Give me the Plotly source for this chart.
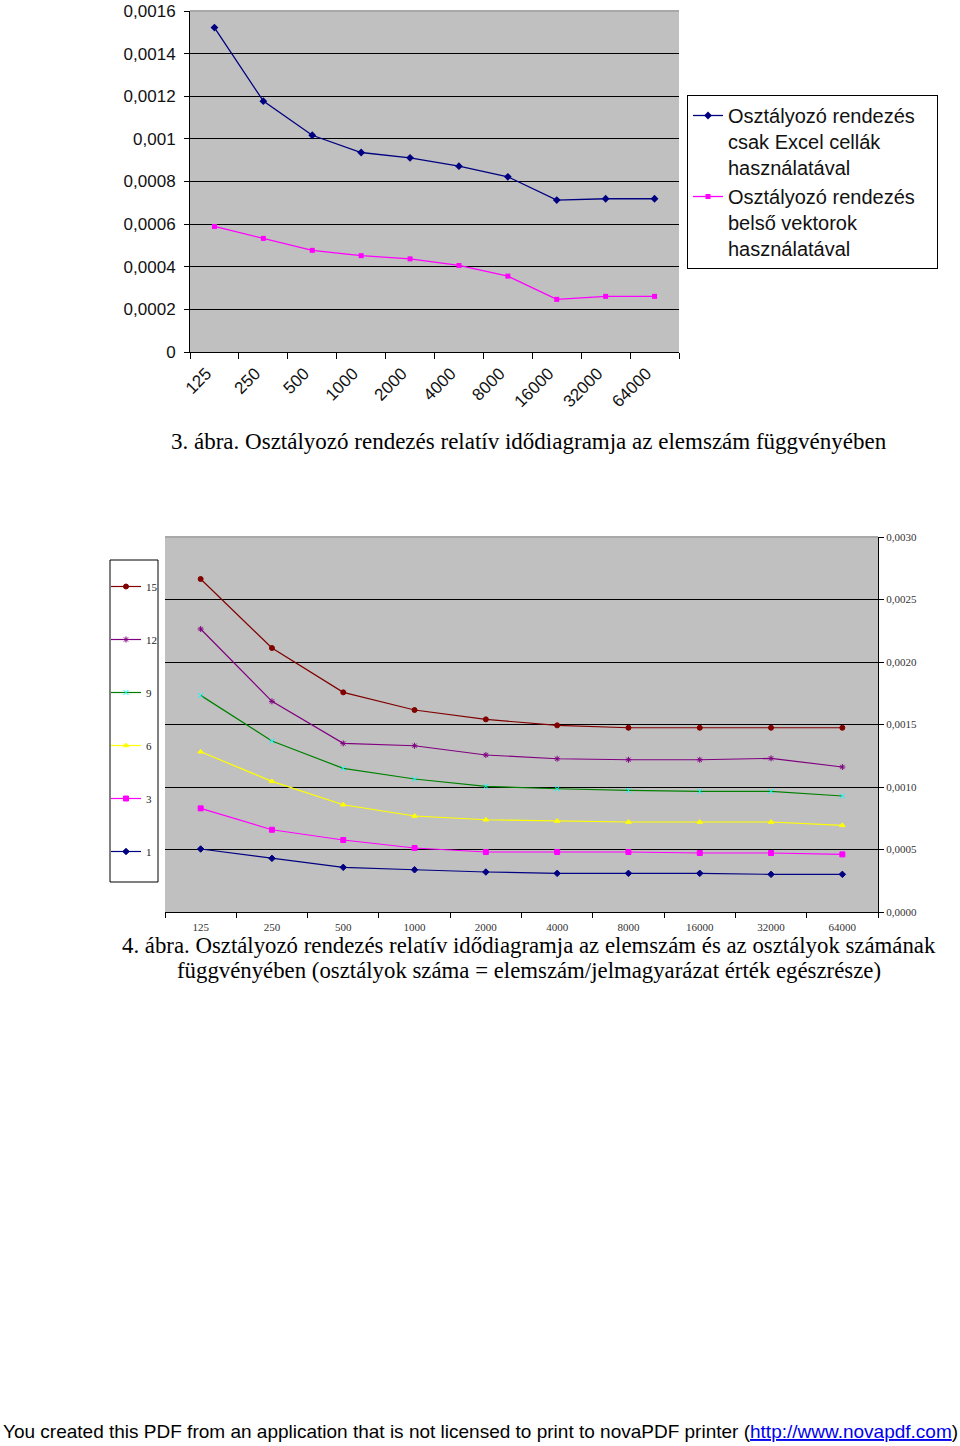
import plotly.graph_objects as go

# ---------------- data ----------------
categories = ["125", "250", "500", "1000", "2000", "4000", "8000", "16000", "32000", "64000"]

excel_cells = [0.001522, 0.001177, 0.001017, 0.000936, 0.000911, 0.000872, 0.000822, 0.000713, 0.000719, 0.000719]
inner_vectors = [0.000589, 0.000533, 0.000477, 0.000452, 0.000437, 0.000406, 0.000356, 0.000247, 0.000261, 0.000261]

top_y_ticks = [0, 0.0002, 0.0004, 0.0006, 0.0008, 0.001, 0.0012, 0.0014, 0.0016]
top_y_labels = ["0", "0,0002", "0,0004", "0,0006", "0,0008", "0,001", "0,0012", "0,0014", "0,0016"]

class_labels = ["15", "12", "9", "6", "3", "1"]
classes_15 = [0.002664, 0.002112, 0.001757, 0.001616, 0.001541, 0.001493, 0.001474, 0.001474, 0.001474, 0.001474]
classes_12 = [0.002264, 0.001685, 0.001349, 0.001330, 0.001256, 0.001226, 0.001218, 0.001218, 0.001229, 0.001160]
classes_9 = [0.001733, 0.001368, 0.001149, 0.001064, 0.001005, 0.000986, 0.000973, 0.000965, 0.000965, 0.000928]
classes_6 = [0.001282, 0.001045, 0.000858, 0.000768, 0.000738, 0.000728, 0.000720, 0.000720, 0.000720, 0.000693]
classes_3 = [0.000829, 0.000658, 0.000576, 0.000512, 0.000480, 0.000480, 0.000480, 0.000472, 0.000472, 0.000461]
classes_1 = [0.000504, 0.000429, 0.000357, 0.000338, 0.000320, 0.000309, 0.000309, 0.000309, 0.000301, 0.000301]
bottom_y_ticks = [0, 0.0005, 0.001, 0.0015, 0.002, 0.0025, 0.003]

caption_3 = "3. ábra. Osztályozó rendezés relatív idődiagramja az elemszám függvényében"
caption_4a = "4. ábra. Osztályozó rendezés relatív idődiagramja az elemszám és az osztályok számának"
caption_4b = "függvényében (osztályok száma = elemszám/jelmagyarázat érték egészrésze)"
footer = ("You created this PDF from an application that is not licensed to print to novaPDF printer "
          "(<span style='color:#0000ee'><u>http://www.novapdf.com</u></span>)")

# ---------------- layout helpers ----------------
W, H = 960, 1446
def fx(p):
    return p / W
def fy(p):
    return 1 - p / H

SANS = "Liberation Sans, Arial, sans-serif"
SERIF = "Liberation Serif, Times New Roman, serif"
GREY = "#C0C0C0"

fig = go.Figure()

# ---- top chart ----
fig.add_trace(go.Scatter(
    x=categories, y=excel_cells, mode="lines+markers",
    name="Osztályozó rendezés&nbsp;&nbsp;&nbsp;<br>csak Excel cellák<br>használatával",
    line=dict(color="#000080", width=1.3),
    marker=dict(symbol="diamond", size=6, color="#000080"),
    xaxis="x", yaxis="y", legend="legend"))
fig.add_trace(go.Scatter(
    x=categories, y=inner_vectors, mode="lines+markers",
    name="Osztályozó rendezés<br>belső vektorok<br>használatával",
    line=dict(color="#FF00FF", width=1.3),
    marker=dict(symbol="square", size=5, color="#FF00FF"),
    xaxis="x", yaxis="y", legend="legend"))

# ---- bottom chart ----
bottom_series = [classes_15, classes_12, classes_9, classes_6, classes_3, classes_1]
line_colors = ["#800000", "#800080", "#008000", "#FFFF00", "#FF00FF", "#000080"]
marker_colors = ["#800000", "#800080", "#00FFFF", "#FFFF00", "#FF00FF", "#000080"]
marker_symbols = ["circle", "asterisk-open", "x-thin-open", "triangle-up", "square", "diamond"]
for lab, ys, lc, mc, ms in zip(class_labels, bottom_series, line_colors, marker_colors, marker_symbols):
    fig.add_trace(go.Scatter(
        x=categories, y=ys, mode="lines+markers", name=lab,
        line=dict(color=lc, width=1.2),
        marker=dict(symbol=ms, size=5, color=mc, line=dict(color=mc, width=1)),
        xaxis="x2", yaxis="y2", legend="legend2", legendgroup="g" + lab))

fig.update_layout(
    width=W, height=H,
    margin=dict(l=0, r=0, t=0, b=0, autoexpand=False),
    paper_bgcolor="white", plot_bgcolor=GREY,
    separators=",.",
    showlegend=True,
    xaxis=dict(domain=[fx(190), fx(679)], anchor="y", type="category",
               range=[-0.5, 9.5], showgrid=False, showline=True, linecolor="black", linewidth=1,
               ticks="outside", ticklen=6, tickcolor="black", tickson="boundaries",
               tickangle=-45, ticklabelshift=-8, ticklabelstandoff=4,
               tickfont=dict(family=SANS, size=17, color="#111")),
    yaxis=dict(domain=[fy(352), fy(11)], anchor="x", range=[0, 0.0016],
               tickvals=top_y_ticks, ticktext=top_y_labels, zeroline=False,
               showline=True, linecolor="black", linewidth=1, ticks="outside", ticklen=5,
               tickcolor="black", showgrid=True, gridcolor="black", gridwidth=1.3,
               ticklabelstandoff=5,
               tickfont=dict(family=SANS, size=17, color="#111")),
    xaxis2=dict(domain=[fx(165), fx(878)], anchor="y2", type="category",
                range=[-0.5, 9.5], showgrid=False, showline=True, linecolor="black", linewidth=1,
                ticks="outside", ticklen=5, tickcolor="black", tickson="boundaries",
                tickangle=0, ticklabelstandoff=5,
                tickfont=dict(family=SERIF, size=11, color="#333")),
    yaxis2=dict(domain=[fy(912), fy(537)], anchor="x2", side="right", range=[0, 0.003],
                tickvals=bottom_y_ticks, tickformat=".4f", zeroline=False,
                showline=True, linecolor="black", linewidth=1, ticks="outside", ticklen=5,
                tickcolor="black", showgrid=True, gridcolor="black", gridwidth=1.3,
                tickfont=dict(family=SERIF, size=11, color="#333")),
    legend=dict(x=fx(687), y=fy(95), xanchor="left", yanchor="top",
                bordercolor="black", borderwidth=1, bgcolor="white",
                font=dict(family=SANS, size=20, color="#111"), valign="top",
                tracegroupgap=4),
    legend2=dict(x=fx(106), y=fy(572), xanchor="left", yanchor="top",
                 borderwidth=0, bgcolor="rgba(0,0,0,0)",
                 font=dict(family=SERIF, size=11, color="#222"),
                 tracegroupgap=34, itemwidth=30),
    shapes=[
        dict(type="line", xref="x domain", yref="y domain", x0=0, x1=1, y0=1, y1=1,
             line=dict(color="#A8A8A8", width=2), layer="above"),
        dict(type="line", xref="x2 domain", yref="y2 domain", x0=0, x1=1, y0=1, y1=1,
             line=dict(color="#A8A8A8", width=2), layer="above"),
        dict(type="rect", xref="paper", yref="paper", x0=fx(110), x1=fx(158), y0=fy(882), y1=fy(560),
             line=dict(color="black", width=1), fillcolor="white", layer="below"),
    ],
    annotations=[
        dict(text=caption_3, xref="paper", yref="paper", x=fx(529), y=fy(441),
             xanchor="center", yanchor="middle", showarrow=False,
             font=dict(family=SERIF, size=23, color="black")),
        dict(text=caption_4a, xref="paper", yref="paper", x=fx(529), y=fy(945),
             xanchor="center", yanchor="middle", showarrow=False,
             bgcolor="white", borderpad=0,
             font=dict(family=SERIF, size=22.8, color="black")),
        dict(text=caption_4b, xref="paper", yref="paper", x=fx(529), y=fy(971),
             xanchor="center", yanchor="middle", showarrow=False,
             font=dict(family=SERIF, size=22.8, color="black")),
        dict(text=footer, xref="paper", yref="paper", x=fx(480), y=fy(1431),
             xanchor="center", yanchor="middle", showarrow=False,
             font=dict(family=SANS, size=19, color="black")),
    ],
)

fig.write_html("out.html", config={"displayModeBar": False},
               post_script="document.body.style.margin='0';document.body.style.overflow='hidden';")
